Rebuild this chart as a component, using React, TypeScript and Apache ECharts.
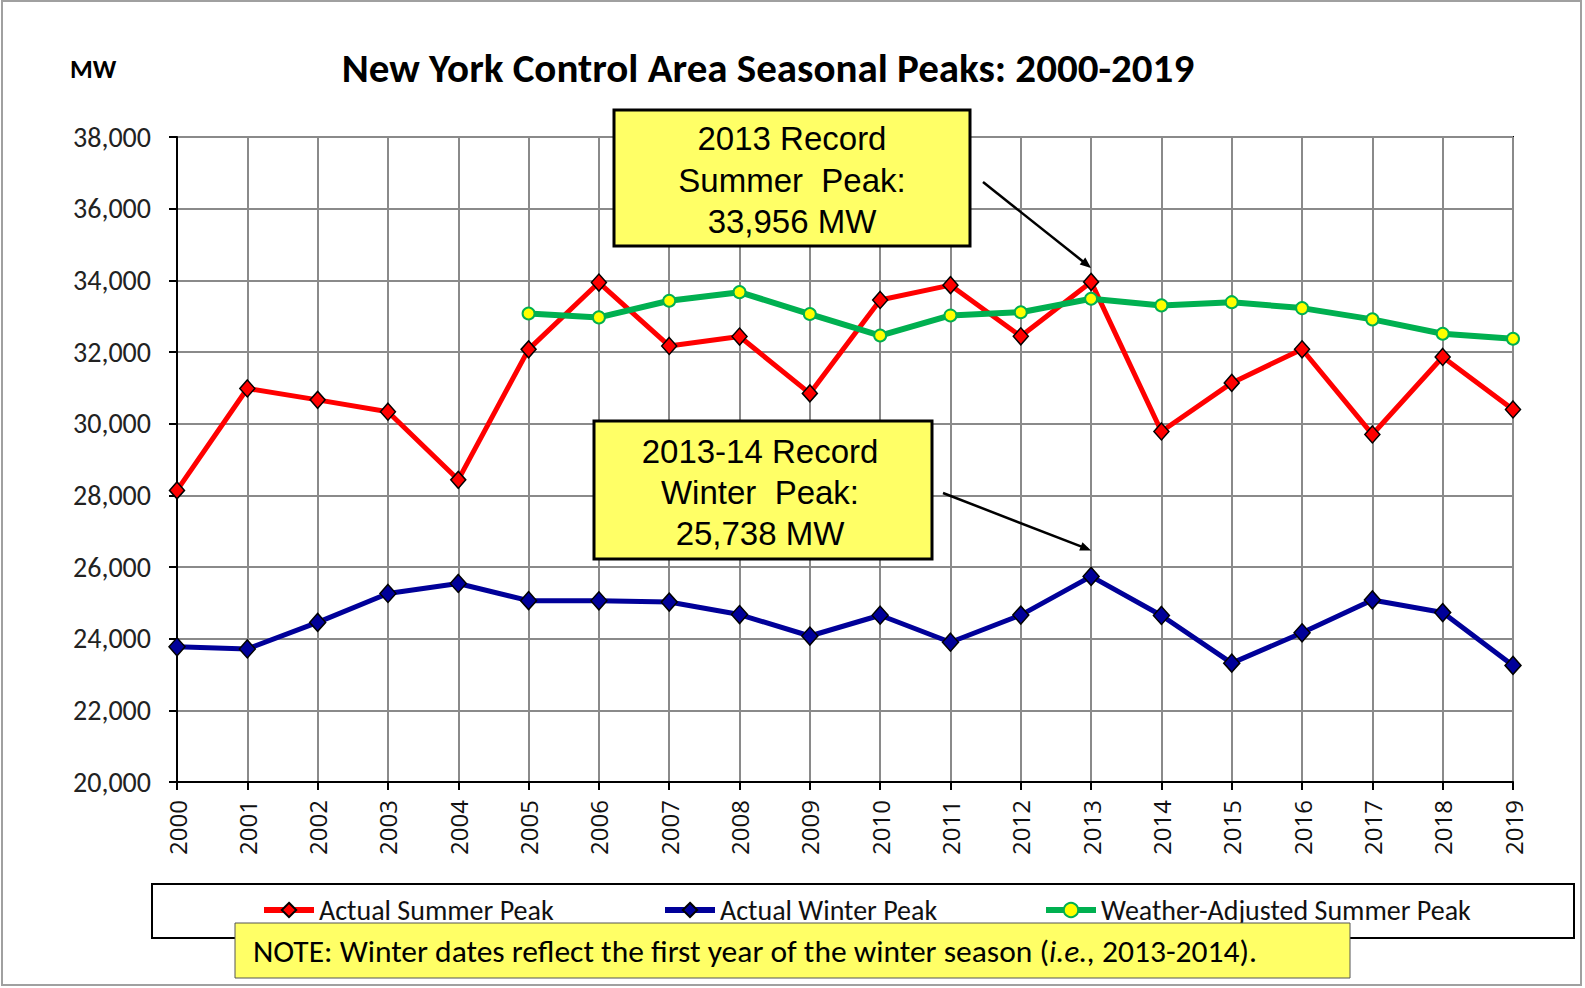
import React, { useEffect, useRef } from "react";
import * as echarts from "echarts";

const years = ["2000","2001","2002","2003","2004","2005","2006","2007","2008","2009","2010","2011","2012","2013","2014","2015","2016","2017","2018","2019"];
const summerPeak = [28138, 30982, 30664, 30333, 28433, 32075, 33939, 32169, 32432, 30844, 33452, 33865, 32439, 33956, 29782, 31138, 32076, 29699, 31861, 30397];
const winterPeak = [23774, 23713, 24454, 25262, 25541, 25060, 25057, 25021, 24673, 24074, 24654, 23901, 24658, 25738, 24648, 23317, 24164, 25081, 24728, 23253];
const weatherAdjusted = [null, null, null, null, null, 33075, 32965, 33430, 33670, 33060, 32460, 33020, 33110, 33485, 33300, 33390, 33225, 32910, 32510, 32370];
const yTicks = { min: 20000, max: 38000, interval: 2000 };
const titleText = "New York Control Area Seasonal Peaks: 2000-2019";

const FONT = "Carlito, Lato, sans-serif";
const ARIAL = "'Liberation Sans', Arial, sans-serif";

export default function App() {
  const ref = useRef<HTMLDivElement>(null);
  useEffect(() => {
    if (!ref.current) return;
    const chart = echarts.init(ref.current, null, { renderer: "svg" });
    const legendText = { fontFamily: FONT, fontSize: 28, color: "#111" };
    const legendCommon = { top: 896, itemWidth: 50, itemHeight: 18, textStyle: legendText, itemGap: 0, padding: 0, lineStyle: { width: 6 } };
    const option: any = {
      animation: false,
      backgroundColor: "#ffffff",
      grid: {
        left: 177, right: 72, top: 137, bottom: 206,
        show: true, borderColor: "#000", borderWidth: 2, backgroundColor: "transparent",
      },
      xAxis: {
        type: "category",
        data: years,
        boundaryGap: false,
        axisLine: { lineStyle: { color: "#000", width: 2 } },
        axisTick: { show: true, length: 8, lineStyle: { color: "#000", width: 2 } },
        axisLabel: { rotate: 90, margin: 18, fontFamily: "'Open Sans', sans-serif", fontSize: 24, color: "#111" },
        splitLine: { show: true, lineStyle: { color: "#8a8a8a", width: 2 } },
      },
      yAxis: {
        type: "value",
        min: yTicks.min, max: yTicks.max, interval: yTicks.interval,
        axisLine: { show: true, lineStyle: { color: "#000", width: 2 } },
        axisTick: { show: true, length: 8, lineStyle: { color: "#000", width: 2 } },
        axisLabel: {
          margin: 26, fontFamily: FONT, fontSize: 28, color: "#222",
          formatter: (v: number) => v.toLocaleString("en-US"),
        },
        splitLine: { show: true, lineStyle: { color: "#8a8a8a", width: 2 } },
      },
      legend: [
        { ...legendCommon, data: [{ name: "Actual Summer Peak", lineStyle: { width: 6 } }], left: 261 },
        { ...legendCommon, data: [{ name: "Actual Winter Peak", lineStyle: { width: 6 } }], left: 662 },
        { ...legendCommon, data: [{ name: "Weather-Adjusted Summer Peak", lineStyle: { width: 6 } }], left: 1043 },
      ],
      series: [
        {
          name: "Actual Summer Peak", type: "line", data: summerPeak,
          symbol: "diamond", symbolSize: [15, 17],
          lineStyle: { color: "#FF0000", width: 5 },
          itemStyle: { color: "#FF0000", borderColor: "#000", borderWidth: 1.5 },
          z: 3,
        },
        {
          name: "Actual Winter Peak", type: "line", data: winterPeak,
          symbol: "diamond", symbolSize: [16, 18],
          lineStyle: { color: "#000099", width: 5 },
          itemStyle: { color: "#000099", borderColor: "#000", borderWidth: 1.5 },
          z: 3,
        },
        {
          name: "Weather-Adjusted Summer Peak", type: "line", data: weatherAdjusted,
          symbol: "circle", symbolSize: 12,
          lineStyle: { color: "#00B050", width: 6 },
          itemStyle: { color: "#FFFF00", borderColor: "#00B050", borderWidth: 2 },
          z: 4,
        },
      ],
    };
    chart.setOption(option);

    const p1 = chart.convertToPixel({ xAxisIndex: 0, yAxisIndex: 0 }, ["2013", summerPeak[13]]) as number[];
    const p2 = chart.convertToPixel({ xAxisIndex: 0, yAxisIndex: 0 }, ["2013", winterPeak[13]]) as number[];

    const arrow = (x1: number, y1: number, x2: number, y2: number) => {
      const dx = x2 - x1, dy = y2 - y1;
      const len = Math.sqrt(dx * dx + dy * dy);
      const ux = dx / len, uy = dy / len;
      const nx = -uy, ny = ux;
      const L = 11, W = 4.5;
      return [
        { type: "line", z: 120, shape: { x1, y1, x2: x2 - ux * 4, y2: y2 - uy * 4 }, style: { stroke: "#000", lineWidth: 2.5 } },
        {
          type: "polygon", z: 120,
          shape: { points: [[x2, y2], [x2 - ux * L + nx * W, y2 - uy * L + ny * W], [x2 - ux * L - nx * W, y2 - uy * L - ny * W]] },
          style: { fill: "#000" },
        },
      ];
    };

    const box = (x: number, y: number, w: number, h: number, lines: string[], cx: number, ys: number[]) => [
      { type: "rect", z: 110, shape: { x, y, width: w, height: h }, style: { fill: "#FFFF66", stroke: "#000", lineWidth: 3 } },
      ...lines.map((t, i) => ({
        type: "text", z: 111, x: cx, y: ys[i],
        style: { text: t, fontFamily: ARIAL, fontSize: 33, fill: "#000", align: "center", verticalAlign: "middle" },
      })),
    ];

    const graphic: any[] = [
      { type: "rect", z: -10, shape: { x: 2, y: 1, width: 1579, height: 984 }, style: { fill: "none", stroke: "#a0a0a0", lineWidth: 2 } },
      { type: "text", z: 50, x: 768, y: 68, style: { text: titleText, fontFamily: FONT, fontWeight: "bold", fontSize: 41, fill: "#000", align: "center", verticalAlign: "middle" } },
      { type: "text", z: 50, x: 70, y: 69, style: { text: "MW", fontFamily: FONT, fontWeight: "bold", fontSize: 26, fill: "#000", align: "left", verticalAlign: "middle" } },
      ...box(614, 110, 356, 136, ["2013 Record", "Summer  Peak:", "33,956 MW"], 792, [138, 180, 221]),
      ...box(594, 421, 338, 138, ["2013-14 Record", "Winter  Peak:", "25,738 MW"], 760, [451, 492, 533]),
      ...arrow(983, 182, p1[0], p1[1] - 14),
      ...arrow(943, 493, p2[0], p2[1] - 26),
      { type: "rect", z: 1, shape: { x: 152, y: 884, width: 1422, height: 54 }, style: { fill: "#fff", stroke: "#000", lineWidth: 2 } },
      { type: "rect", z: 60, shape: { x: 235, y: 923, width: 1115, height: 55 }, style: { fill: "#FFFF66", stroke: "#555", lineWidth: 1 } },
      {
        type: "text", z: 61, x: 253, y: 951,
        style: {
          text: "{n|NOTE: Winter dates reflect the first year of the winter season (}{i|i.e.,}{n| 2013-2014).}",
          verticalAlign: "middle", align: "left",
          rich: {
            n: { fontFamily: FONT, fontSize: 31.5, fill: "#000", color: "#000" },
            i: { fontFamily: FONT, fontSize: 31.5, fontStyle: "italic", fill: "#000", color: "#000" },
          },
        },
      },
    ];
    chart.setOption({ graphic });

    return () => chart.dispose();
  }, []);
  return <div ref={ref} style={{ position: "absolute", left: 0, top: 0, width: 1585, height: 988 }} />;
}
